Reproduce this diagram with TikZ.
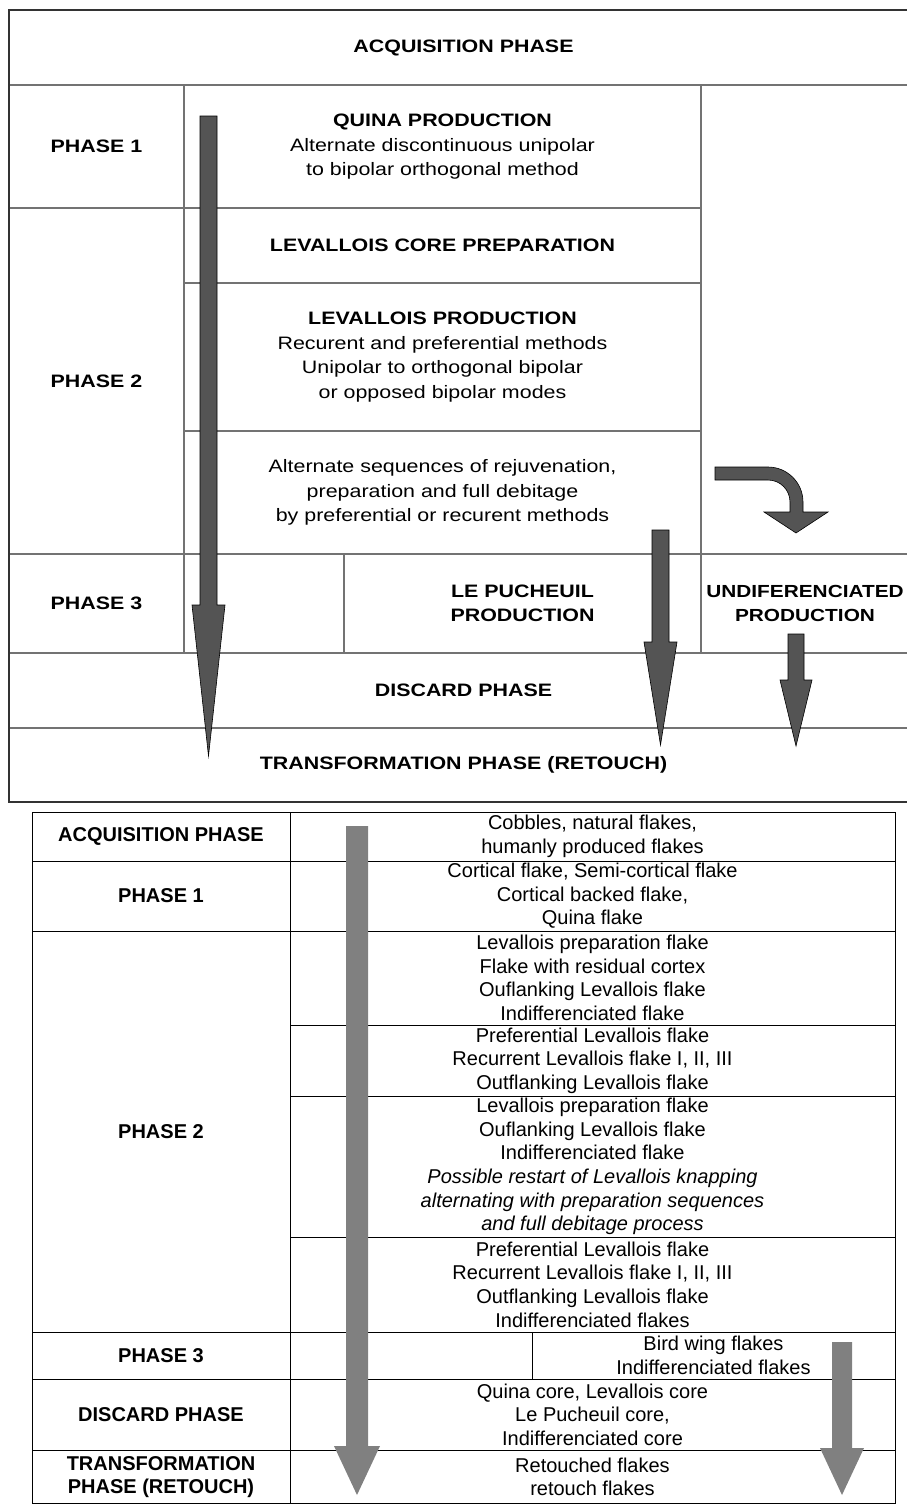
\documentclass[tikz,border=0pt]{standalone}
\usepackage{fontspec}
\setmainfont{Liberation Sans}
\newfontfamily\topfont[FakeStretch=1.19]{Liberation Sans}

\begin{document}
\begin{tikzpicture}[x=1pt,y=-1pt,
		frameline/.style={draw=black!80,line width=1.4pt},
		cellline/.style={draw=black!55,line width=1.1pt},
		tabline/.style={draw=black,line width=1pt},
		darkarrow/.style={fill=black!67,draw=black,line width=0.6pt},
		greyarrow/.style={fill=black!50},
		toptext/.style={inner sep=0pt,align=center,font=\topfont\fontsize{18}{24.5}\selectfont},
		tabtext/.style={inner sep=0pt,align=center,font=\fontsize{20}{23.6}\selectfont}]
			\useasboundingbox (0,0) rectangle (907,1504);
			\clip (0,0) rectangle (907,1504);

			% upper scheme: grid
			\draw[cellline] (9,85) -- (918,85);% under acquisition
			\draw[cellline] (9,208) -- (701,208);% under phase 1
			\draw[cellline] (184,283) -- (701,283);
			\draw[cellline] (184,431) -- (701,431);
			\draw[cellline] (9,554) -- (918,554);% top of phase 3
			\draw[cellline] (9,653) -- (918,653);% top of discard
			\draw[cellline] (9,728) -- (918,728);% top of transformation
			\draw[cellline] (184,85) -- (184,653);
			\draw[cellline] (701,85) -- (701,653);
			\draw[cellline] (344,554) -- (344,653);
			\draw[frameline] (9,10) rectangle (918,802);

			% upper scheme: labels
			\node[toptext,font=\topfont\bfseries\fontsize{18}{24.5}\selectfont] (acq) at (463.5,47.5) {ACQUISITION PHASE};
			\node[toptext,font=\topfont\bfseries\fontsize{18}{24.5}\selectfont] (ph1) at (96.5,146.5) {PHASE 1};
			\node[toptext,font=\topfont\bfseries\fontsize{18}{24.5}\selectfont] (ph2) at (96.5,381) {PHASE 2};
			\node[toptext,font=\topfont\bfseries\fontsize{18}{24.5}\selectfont] (ph3) at (96.5,603.5) {PHASE 3};
			\node[toptext] (quina) at (442.5,147) {\textbf{QUINA PRODUCTION}\\Alternate discontinuous unipolar\\to bipolar orthogonal method};
			\node[toptext,font=\topfont\bfseries\fontsize{18}{24.5}\selectfont] (prep) at (442.5,245.5) {LEVALLOIS CORE PREPARATION};
			\node[toptext] (levprod) at (442.5,357) {\textbf{LEVALLOIS PRODUCTION}\\Recurent and preferential methods\\Unipolar to orthogonal bipolar\\or opposed bipolar modes};
			\node[toptext] (altern) at (442.5,492.5) {Alternate sequences of rejuvenation,\\preparation and full debitage\\by preferential or recurent methods};
			\node[toptext,font=\topfont\bfseries\fontsize{18}{24.5}\selectfont] (puch) at (522.5,603.5) {LE PUCHEUIL\\PRODUCTION};
			\node[toptext,font=\topfont\bfseries\fontsize{17.5}{24.5}\selectfont] (undif) at (805,603.5) {UNDIFERENCIATED\\PRODUCTION};
			\node[toptext,font=\topfont\bfseries\fontsize{18}{24.5}\selectfont] (disc) at (463.5,690.5) {DISCARD PHASE};
			\node[toptext,font=\topfont\bfseries\fontsize{18}{24.5}\selectfont] (retouch) at (463.5,765) {TRANSFORMATION PHASE (RETOUCH)};

			% upper scheme: arrows
			\filldraw[darkarrow] (200,116) -- (217,116) -- (217,605) -- (225,605) -- (208.5,756) -- (192,605) -- (200,605) -- cycle;% long left arrow
			\filldraw[darkarrow] (652,530) -- (669,530) -- (669,642) -- (677,642) -- (660.5,745) -- (644,642) -- (652,642) -- cycle;% middle arrow
			\filldraw[darkarrow] (788,634) -- (804,634) -- (804,680) -- (812,680) -- (796,746) -- (780,680) -- (788,680) -- cycle;% short right arrow
			\filldraw[darkarrow] (715,467) -- (768,467) .. controls (787.3,467) and (803,482.7) .. (803,502) -- (803,512) -- (828,512) -- (796,533) -- (764,512) -- (790,512) -- (790,502) .. controls (790,489.8) and (780.2,480) .. (768,480) -- (715,480) -- cycle;% turning arrow

			% lower table: grid
			\draw[tabline] (32,861) -- (895,861);
			\draw[tabline] (32,931) -- (895,931);
			\draw[tabline] (290,1025) -- (895,1025);
			\draw[tabline] (290,1096) -- (895,1096);
			\draw[tabline] (290,1237) -- (895,1237);
			\draw[tabline] (32,1332) -- (895,1332);
			\draw[tabline] (32,1379) -- (895,1379);
			\draw[tabline] (32,1450) -- (895,1450);
			\draw[tabline] (290,812) -- (290,1503);
			\draw[tabline] (532,1332) -- (532,1379);
			\draw[tabline] (32,812) rectangle (895,1503);

			% lower table: phases
			\node[tabtext,font=\bfseries\fontsize{20}{23.6}\selectfont] (tacq) at (161,836.5) {ACQUISITION PHASE};
			\node[tabtext,font=\bfseries\fontsize{20}{23.6}\selectfont] (tph1) at (161,896) {PHASE 1};
			\node[tabtext,font=\bfseries\fontsize{20}{23.6}\selectfont] (tph2) at (161,1131.5) {PHASE 2};
			\node[tabtext,font=\bfseries\fontsize{20}{23.6}\selectfont] (tph3) at (161,1355.5) {PHASE 3};
			\node[tabtext,font=\bfseries\fontsize{20}{23.6}\selectfont] (tdisc) at (161,1414.5) {DISCARD PHASE};
			\node[tabtext,font=\bfseries\fontsize{20}{23.6}\selectfont] (tret) at (161,1477) {TRANSFORMATION\\PHASE (RETOUCH)};

			% lower table: products
			\node[tabtext] (cobbles) at (592.5,836.5) {Cobbles, natural flakes,\\humanly produced flakes};
			\node[tabtext] (cortical) at (592.5,896) {Cortical flake, Semi-cortical flake\\Cortical backed flake,\\Quina flake};
			\node[tabtext] (levprep) at (592.5,978) {Levallois preparation flake\\Flake with residual cortex\\Ouflanking Levallois flake\\Indifferenciated flake};
			\node[tabtext] (pref) at (592.5,1060.5) {Preferential Levallois flake\\Recurrent Levallois flake I, II, III\\Outflanking Levallois flake};
			\node[tabtext] (restart) at (592.5,1166.5) {Levallois preparation flake\\Ouflanking Levallois flake\\Indifferenciated flake\\\textit{Possible restart of Levallois knapping}\\\textit{alternating with preparation sequences}\\\textit{and full debitage process}};
			\node[tabtext] (pref2) at (592.5,1284.5) {Preferential Levallois flake\\Recurrent Levallois flake I, II, III\\Outflanking Levallois flake\\Indifferenciated flakes};
			\node[tabtext] (bird) at (713.5,1355.5) {Bird wing flakes\\Indifferenciated flakes};
			\node[tabtext] (cores) at (592.5,1414.5) {Quina core, Levallois core\\Le Pucheuil core,\\Indifferenciated core};
			\node[tabtext] (retflakes) at (592.5,1477) {Retouched flakes\\retouch flakes};

			% lower table: arrows
			\fill[greyarrow] (346,826) -- (368,826) -- (368,1446) -- (380,1446) -- (357,1495) -- (334,1446) -- (346,1446) -- cycle;
			\fill[greyarrow] (832,1342) -- (852,1342) -- (852,1448) -- (864,1448) -- (842,1495) -- (820,1448) -- (832,1448) -- cycle;
		\end{tikzpicture}
\end{document}
